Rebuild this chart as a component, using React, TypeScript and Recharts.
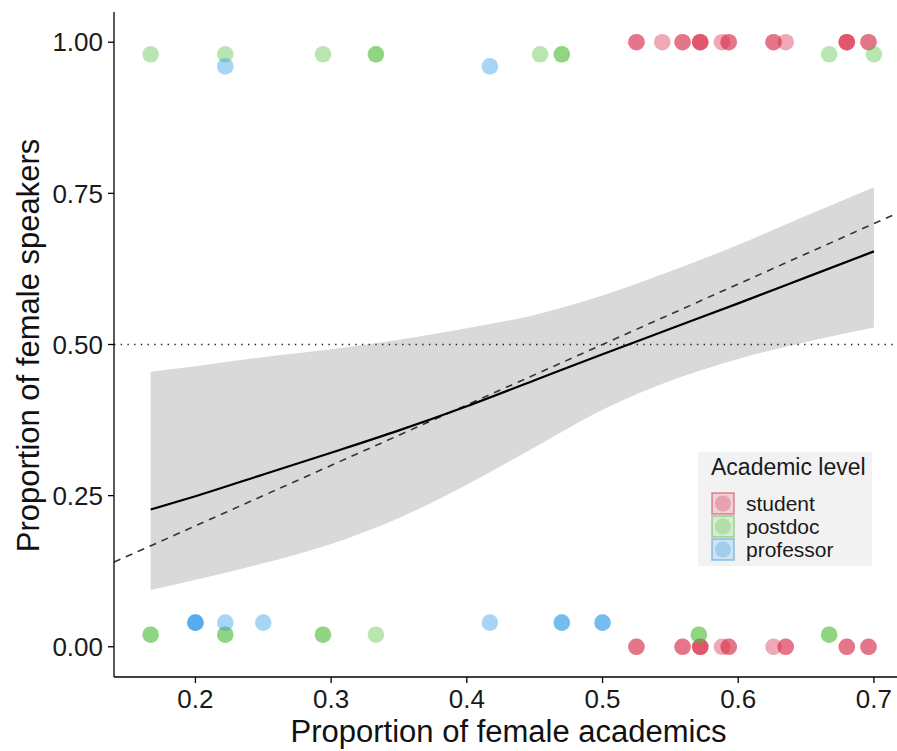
import React from "react";
import {
  ComposedChart,
  XAxis,
  YAxis,
  Area,
  Line,
  Scatter,
  ReferenceLine,
  Legend,
} from "recharts";

// ---------- data ----------
const xTicks = [0.2, 0.3, 0.4, 0.5, 0.6, 0.7];
const yTicks = [0, 0.25, 0.5, 0.75, 1];

// fitted logistic curve and its confidence band
const fitX = [0.167, 0.2, 0.25, 0.3, 0.35, 0.4, 0.45, 0.5, 0.55, 0.6, 0.65, 0.7];
const fitY = [0.227, 0.249, 0.285, 0.321, 0.358, 0.398, 0.441, 0.484, 0.526, 0.568, 0.611, 0.654];
const bandLow = [0.094, 0.111, 0.138, 0.17, 0.213, 0.268, 0.33, 0.392, 0.44, 0.476, 0.504, 0.528];
const bandHigh = [0.455, 0.464, 0.479, 0.492, 0.508, 0.527, 0.549, 0.581, 0.621, 0.665, 0.713, 0.76];

// identity (parity) line end points
const parityX = [0.14, 0.717];

// outcome levels (each group drawn slightly offset) : top row / bottom row
const levelNames = ["student", "postdoc", "professor"];
const topY = [1.0, 0.98, 0.96];
const bottomY = [0.0, 0.02, 0.04];

// observations (repeats = overlapping points)
const studentTopX = [0.525, 0.525, 0.544, 0.559, 0.559, 0.572, 0.572, 0.572, 0.588, 0.593, 0.593, 0.626, 0.626, 0.635, 0.68, 0.68, 0.68, 0.696, 0.696];
const studentBottomX = [0.525, 0.525, 0.559, 0.559, 0.572, 0.572, 0.572, 0.588, 0.593, 0.593, 0.626, 0.635, 0.635, 0.68, 0.68, 0.696, 0.696];
const postdocTopX = [0.167, 0.222, 0.294, 0.333, 0.333, 0.454, 0.47, 0.47, 0.667, 0.7];
const postdocBottomX = [0.167, 0.167, 0.222, 0.222, 0.294, 0.294, 0.333, 0.571, 0.571, 0.667, 0.667];
const professorTopX = [0.222, 0.417];
const professorBottomX = [0.2, 0.2, 0.2, 0.222, 0.25, 0.417, 0.47, 0.47, 0.5, 0.5];

// ---------- styling ----------
const COLORS = ["#D62846", "#4FBF3C", "#2896E6"];
const FONT = '"Liberation Sans", Arial, Helvetica, sans-serif';
const W = 897;
const H = 751;

const curveRows = fitX.map((x, i) => ({
  x,
  fit: fitY[i],
  band: [bandLow[i], bandHigh[i]],
}));

const toPoints = (top: number[], bottom: number[], g: number) => [
  ...top.map((x) => ({ x, y: topY[g] })),
  ...bottom.map((x) => ({ x, y: bottomY[g] })),
];

const groups = [
  toPoints(studentTopX, studentBottomX, 0),
  toPoints(postdocTopX, postdocBottomX, 1),
  toPoints(professorTopX, professorBottomX, 2),
];

const makeDot = (color: string) => (props: any) => {
  if (props.cx == null || props.cy == null) return <g />;
  return <circle cx={props.cx} cy={props.cy} r={8.3} fill={color} fillOpacity={0.4} />;
};

const XTitle = (props: any) => {
  const vb = props.viewBox || { x: 114, y: 677, width: 783, height: 74 };
  return (
    <text
      x={vb.x + vb.width / 2 + 3}
      y={vb.y + 65}
      textAnchor="middle"
      fontSize={31}
      fill="#111"
      fontFamily={FONT}
    >
      Proportion of female academics
    </text>
  );
};

const YTitle = (props: any) => {
  const vb = props.viewBox || { x: 0, y: 12, width: 114, height: 665 };
  const cx = vb.x + 28;
  const cy = vb.y + vb.height / 2 + 1;
  return (
    <text
      x={cx}
      y={cy}
      transform={`rotate(-90 ${cx} ${cy})`}
      textAnchor="middle"
      dominantBaseline="central"
      fontSize={31}
      fill="#111"
      fontFamily={FONT}
    >
      Proportion of female speakers
    </text>
  );
};

const LegendBox = () => (
  <div
    style={{
      width: 174,
      height: 114,
      background: "#f2f2f2",
      position: "relative",
      fontFamily: FONT,
      color: "#1a1a1a",
    }}
  >
    <div style={{ position: "absolute", left: 13, top: 1, fontSize: 23, lineHeight: "28px", whiteSpace: "nowrap" }}>
      Academic level
    </div>
    {levelNames.map((name, i) => (
      <div key={name} style={{ position: "absolute", left: 13, top: 40 + i * 23, height: 23, display: "flex" }}>
        <svg width={24} height={23} style={{ display: "block" }}>
          <rect x={1} y={1} width={22} height={21} fill={COLORS[i]} fillOpacity={0.16} stroke={COLORS[i]} strokeOpacity={0.5} strokeWidth={1.6} />
          <circle cx={12} cy={11.5} r={8} fill={COLORS[i]} fillOpacity={0.28} />
        </svg>
        <span style={{ marginLeft: 11, fontSize: 21, lineHeight: "23px", whiteSpace: "nowrap" }}>{name}</span>
      </div>
    ))}
  </div>
);

export default function App() {
  return (
    <div style={{ position: "absolute", left: 0, top: 0, width: W, height: H, background: "#fff", fontFamily: FONT }}>
      <ComposedChart width={W} height={H} data={curveRows} margin={{ top: 12, right: 0, bottom: 0, left: 0 }}>
        <XAxis
          type="number"
          dataKey="x"
          domain={[0.14, 0.717]}
          allowDataOverflow
          ticks={xTicks}
          interval={0}
          tickFormatter={(v: number) => v.toFixed(1)}
          height={74}
          tickSize={6}
          tickMargin={7}
          axisLine={{ stroke: "#000", strokeWidth: 1.3 }}
          tickLine={{ stroke: "#000", strokeWidth: 1.3 }}
          tick={{ fill: "#1a1a1a", fontSize: 26, fontFamily: FONT }}
          label={{ content: XTitle }}
        />
        <YAxis
          type="number"
          dataKey="y"
          domain={[-0.05, 1.05]}
          allowDataOverflow
          ticks={yTicks}
          interval={0}
          tickFormatter={(v: number) => v.toFixed(2)}
          width={114}
          tickSize={6}
          tickMargin={5}
          axisLine={{ stroke: "#000", strokeWidth: 1.3 }}
          tickLine={{ stroke: "#000", strokeWidth: 1.3 }}
          tick={{ fill: "#1a1a1a", fontSize: 26, fontFamily: FONT }}
          label={{ content: YTitle }}
        />
        <Area
          type="monotone"
          dataKey="band"
          stroke="none"
          fill="#d9d9d9"
          fillOpacity={1}
          isAnimationActive={false}
          legendType="none"
        />
        <ReferenceLine y={0.5} stroke="#222" strokeWidth={1.4} strokeDasharray="1.4 5.3" />
        <ReferenceLine
          segment={[
            { x: parityX[0], y: parityX[0] },
            { x: parityX[1], y: parityX[1] },
          ]}
          stroke="#333"
          strokeWidth={1.6}
          strokeDasharray="7 6"
          ifOverflow="hidden"
        />
        <Line
          type="monotone"
          dataKey="fit"
          stroke="#000"
          strokeWidth={2.2}
          dot={false}
          activeDot={false}
          isAnimationActive={false}
          legendType="none"
        />
        {groups.map((pts, g) => (
          <Scatter
            key={levelNames[g]}
            name={levelNames[g]}
            data={pts}
            dataKey="y"
            fill={COLORS[g]}
            shape={makeDot(COLORS[g])}
            isAnimationActive={false}
          />
        ))}
        <Legend
          layout="horizontal"
          verticalAlign="middle"
          align="center"
          wrapperStyle={{ left: 698, top: 452, width: 174, height: 114 }}
          content={() => <LegendBox />}
        />
      </ComposedChart>
    </div>
  );
}
